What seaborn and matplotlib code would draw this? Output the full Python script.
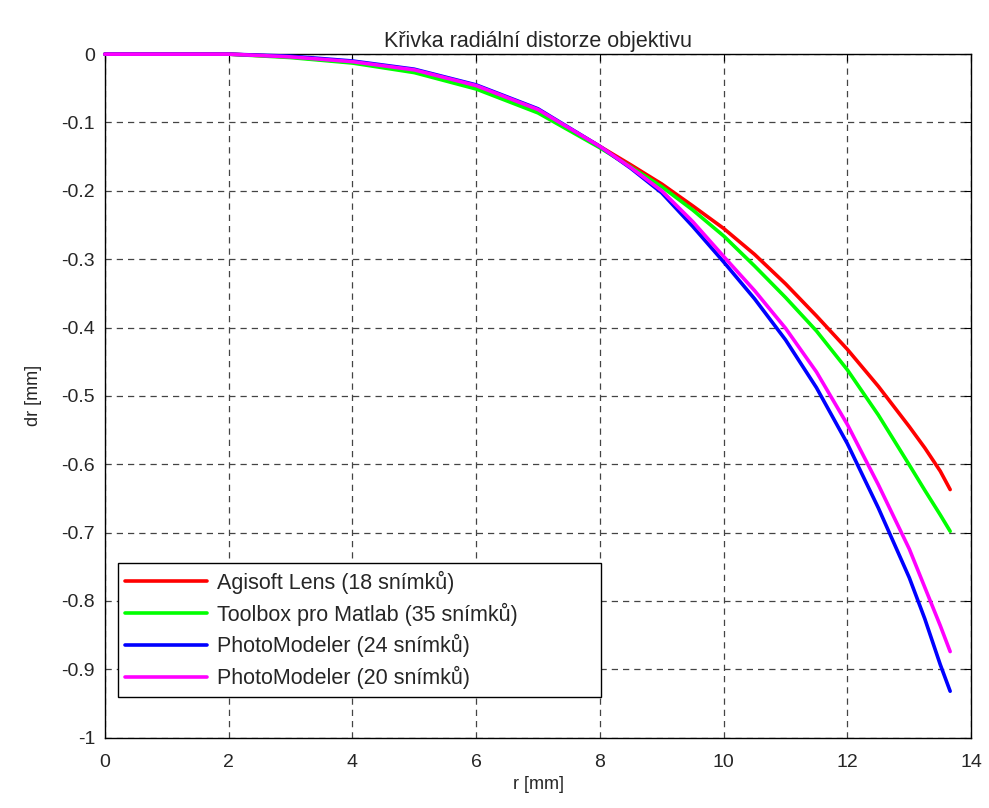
import matplotlib
matplotlib.use("Agg")
import matplotlib.pyplot as plt
import pandas as pd
import seaborn as sns

# hodnoty
r_mm = [0, 1, 2, 3, 4, 5, 6, 7, 8, 8.5, 9, 9.5, 10, 10.5, 11, 11.5, 12, 12.5, 13, 13.25, 13.5, 13.66]

dr_agisoft = [0, 0, 0, -0.004, -0.012, -0.025, -0.047, -0.082, -0.135, -0.162, -0.190, -0.222,
              -0.255, -0.293, -0.336, -0.383, -0.432, -0.486, -0.545, -0.576, -0.610, -0.637]
dr_toolbox = [0, 0, 0, -0.005, -0.013, -0.027, -0.051, -0.086, -0.137, -0.165, -0.194, -0.228,
              -0.266, -0.310, -0.356, -0.405, -0.462, -0.528, -0.601, -0.638, -0.674, -0.698]
dr_pm24 = [0, 0, 0, -0.003, -0.010, -0.022, -0.045, -0.080, -0.135, -0.167, -0.203, -0.252,
           -0.304, -0.358, -0.418, -0.488, -0.570, -0.664, -0.766, -0.826, -0.893, -0.932]
dr_pm20 = [0, 0, 0, -0.004, -0.011, -0.023, -0.046, -0.081, -0.135, -0.166, -0.200, -0.245,
           -0.296, -0.346, -0.401, -0.465, -0.542, -0.630, -0.724, -0.780, -0.836, -0.874]

labels = [
    "Agisoft Lens (18 snímků)",
    "Toolbox pro Matlab (35 snímků)",
    "PhotoModeler (24 snímků)",
    "PhotoModeler (20 snímků)",
]
colors = ["#ff0000", "#00ff00", "#0000ff", "#ff00ff"]

x_ticks = [0, 2, 4, 6, 8, 10, 12, 14]
y_ticks = [0, -0.1, -0.2, -0.3, -0.4, -0.5, -0.6, -0.7, -0.8, -0.9, -1]
y_tick_labels = ["0", "-0.1", "-0.2", "-0.3", "-0.4", "-0.5", "-0.6", "-0.7", "-0.8", "-0.9", "-1"]

frames = []
for label, values in zip(labels, [dr_agisoft, dr_toolbox, dr_pm24, dr_pm20]):
    frames.append(pd.DataFrame({"r": r_mm, "dr": values, "serie": label}))
data = pd.concat(frames, ignore_index=True)

sns.set_style("white")
plt.rcParams["font.family"] = ["Liberation Sans", "DejaVu Sans"]

fig = plt.figure(figsize=(9.89, 8.08), dpi=100)
ax = fig.add_axes([0.106, 0.087, 0.876, 0.846])

sns.lineplot(data=data, x="r", y="dr", hue="serie", hue_order=labels,
             palette=colors, linewidth=2.6, ax=ax, sort=False)
for line in ax.get_lines():
    line.set_clip_on(False)
    line.set_zorder(3)

ax.set_xlim(0, 14)
ax.set_ylim(-1, 0)
ax.set_xticks(x_ticks)
ax.set_yticks(y_ticks)
ax.set_yticklabels(y_tick_labels)
ax.grid(True, color="#444444", linestyle=(0, (5, 4)), linewidth=0.9)
ax.tick_params(direction="in", length=5, top=True, right=True, labelsize=14, color="black")
ax.tick_params(axis="y", pad=7)
ax.tick_params(axis="x", pad=12)
for spine in ax.spines.values():
    spine.set_color("black")
    spine.set_linewidth(1.0)
    spine.set_zorder(2)

ax.set_xlabel("r [mm]", fontsize=13, labelpad=3)
ax.set_ylabel("dr [mm]", fontsize=13, labelpad=14)
ax.set_title("Křivka radiální distorze objektivu", fontsize=15.5, pad=5)

# sirka ramecku legendy podle predlohy (mode="expand")
leg = ax.legend(loc="lower left", bbox_to_anchor=(0.015, 0.06, 0.558, 0.2), mode="expand",
                borderaxespad=0, fontsize=15.5, handlelength=3.8, handletextpad=0.45,
                labelspacing=0.4, fancybox=False, framealpha=1, edgecolor="black", borderpad=0.35)
leg.get_frame().set_linewidth(1.0)
leg.set_zorder(5)
for line in leg.get_lines():
    line.set_linewidth(2.6)

fig.savefig("out.png", dpi=100)
